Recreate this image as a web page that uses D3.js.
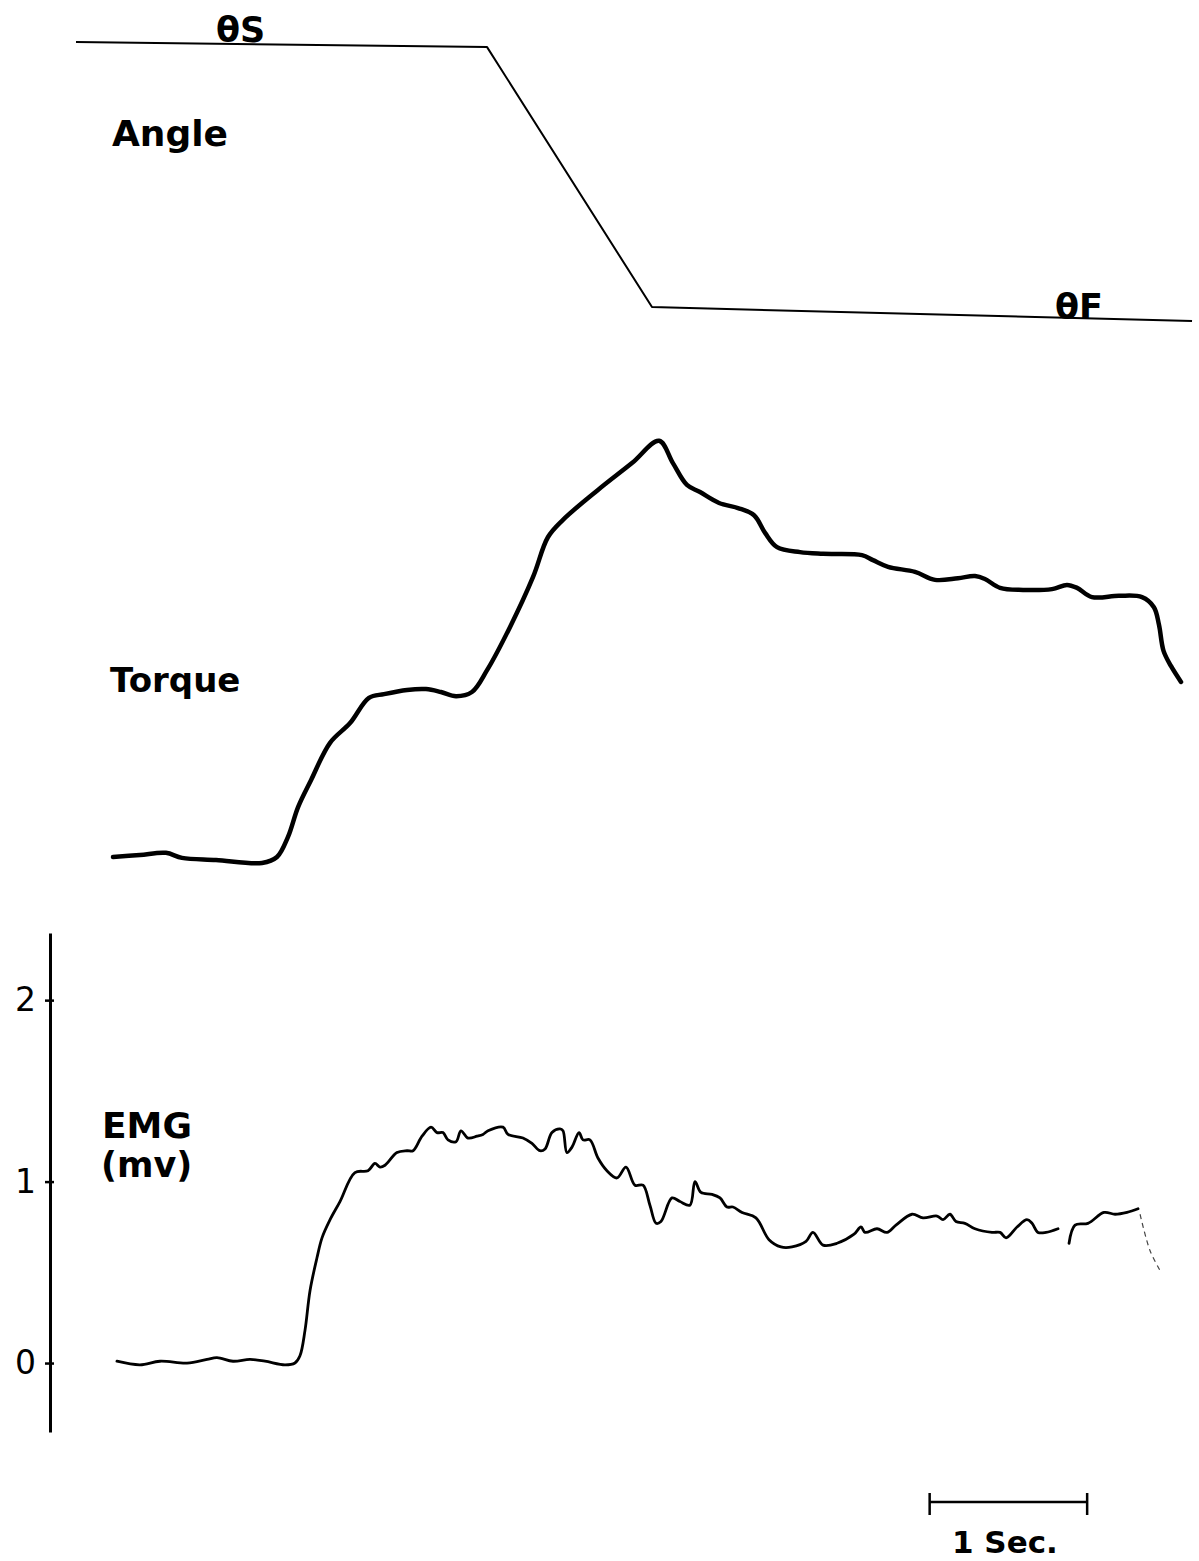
<!DOCTYPE html>
<html>
<head>
<meta charset="utf-8">
<script src="https://cdn.jsdelivr.net/npm/d3@7"></script>
<style>
  html, body { margin: 0; padding: 0; background: #fff; }
  svg text { font-family: "DejaVu Sans", sans-serif; font-weight: bold; fill: #000; }
</style>
</head>
<body>
<svg id="chart" width="1199" height="1561"></svg>
<script>
// ---------- DATA (time in seconds) ----------
const angleTime = [0, 2.61, 3.657, 7.086];
const angleDeg  = [60, 58.9, 3.0, 0];

const torqueTime = [0.235,0.406,0.571,0.673,0.889,1.181,1.276,1.346,1.410,1.492,1.613,1.740,1.860,1.956,2.102,2.222,2.317,2.413,2.514,2.610,2.756,2.902,2.997,3.092,3.314,3.530,3.702,3.790,3.879,3.962,4.083,4.203,4.305,4.375,4.451,4.597,4.743,4.990,5.060,5.156,5.327,5.454,5.600,5.708,5.771,5.867,6.013,6.197,6.292,6.356,6.451,6.622,6.768,6.844,6.876,6.905,6.952,7.016];
const torqueVal  = [0.07,0.12,0.17,0.05,0.00,-0.07,0.07,0.55,1.26,1.90,2.79,3.26,3.86,3.95,4.05,4.07,4.00,3.90,4.00,4.52,5.55,6.74,7.69,8.10,8.81,9.45,9.98,9.45,8.93,8.76,8.50,8.38,8.21,7.79,7.45,7.33,7.29,7.26,7.14,6.98,6.86,6.67,6.71,6.76,6.69,6.48,6.43,6.45,6.55,6.48,6.26,6.29,6.26,6.02,5.60,4.98,4.62,4.24];

const emgTime = [0.260,0.406,0.533,0.705,0.832,0.895,0.997,1.105,1.200,1.327,1.390,1.422,1.454,1.486,1.530,1.562,1.613,1.676,1.771,1.854,1.898,1.930,1.962,2.038,2.102,2.140,2.197,2.254,2.292,2.330,2.362,2.413,2.444,2.489,2.546,2.584,2.616,2.711,2.743,2.838,2.895,2.946,2.978,3.022,3.073,3.092,3.117,3.149,3.194,3.219,3.263,3.314,3.371,3.435,3.492,3.549,3.600,3.644,3.683,3.714,3.784,3.835,3.898,3.930,3.968,4.038,4.089,4.133,4.171,4.229,4.317,4.400,4.476,4.546,4.635,4.679,4.743,4.832,4.940,4.984,5.010,5.086,5.149,5.206,5.308,5.378,5.467,5.505,5.549,5.587,5.644,5.708,5.816,5.867,5.905,5.975,6.038,6.070,6.108,6.159,6.235,6.27,6.305,6.343,6.425,6.527,6.597,6.673,6.743];
const emgMv   = [0.01,-0.01,0.01,0.00,0.02,0.03,0.01,0.02,0.01,-0.01,0.00,0.04,0.18,0.40,0.58,0.69,0.79,0.89,1.05,1.06,1.10,1.08,1.09,1.16,1.17,1.17,1.25,1.30,1.27,1.27,1.23,1.22,1.28,1.24,1.25,1.26,1.28,1.30,1.26,1.24,1.21,1.17,1.18,1.27,1.29,1.28,1.16,1.19,1.27,1.23,1.23,1.13,1.06,1.02,1.08,0.98,0.98,0.87,0.77,0.78,0.91,0.89,0.87,1.00,0.94,0.93,0.91,0.86,0.86,0.83,0.80,0.68,0.64,0.64,0.67,0.72,0.65,0.66,0.71,0.75,0.72,0.74,0.72,0.76,0.82,0.80,0.81,0.79,0.82,0.78,0.77,0.74,0.72,0.72,0.69,0.75,0.79,0.77,0.72,0.72,0.74,null,0.66,0.76,0.77,0.83,0.82,0.83,0.85];
// faint pen tail after the record ends
const emgTailTime = [6.756, 6.819, 6.883];
const emgTailMv   = [0.82, 0.62, 0.51];

const emgTicks = [0, 1, 2];
const scaleBarStart = 5.42;   // seconds
const scaleBarLength = 1;     // seconds

// ---------- SCALES ----------
const svg = d3.select("#chart");
const x = d3.scaleLinear().domain([0, 7.1]).range([76, 76 + 7.1 * 157.5]);
const angleY  = d3.scaleLinear().domain([0, 60]).range([321, 42]);
const torqueY = d3.scaleLinear().domain([0, 10]).range([860, 440]);
const emgY    = d3.scaleLinear().domain([-0.38, 2.37]).range([1432, 933]);

const zipT = (t, v) => t.map((d, i) => ({ t: d, v: v[i] }));

// ---------- ANGLE ----------
svg.append("path")
  .datum(zipT(angleTime, angleDeg))
  .attr("fill", "none").attr("stroke", "#000").attr("stroke-width", 2)
  .attr("stroke-linejoin", "round")
  .attr("d", d3.line().x(d => x(d.t)).y(d => angleY(d.v)));

// ---------- TORQUE ----------
svg.append("path")
  .datum(zipT(torqueTime, torqueVal))
  .attr("fill", "none").attr("stroke", "#000").attr("stroke-width", 4.5)
  .attr("stroke-linejoin", "round").attr("stroke-linecap", "round")
  .attr("d", d3.line().curve(d3.curveCatmullRom.alpha(0.5)).x(d => x(d.t)).y(d => torqueY(d.v)));

// ---------- EMG ----------
const emgAxis = svg.append("g")
  .attr("transform", "translate(50,0)")
  .call(d3.axisLeft(emgY).tickValues(emgTicks).tickSizeInner(5).tickSizeOuter(0).tickPadding(9).tickFormat(d3.format("d")));
emgAxis.select(".domain").attr("stroke", "#000").attr("stroke-width", 3);
emgAxis.selectAll(".tick line").attr("x1", -5).attr("x2", 4).attr("stroke-width", 2.5);
emgAxis.selectAll(".tick text").style("font-size", "33px").style("font-weight", "normal")
  .style("font-family", "\"DejaVu Sans\", sans-serif");

svg.append("path")
  .datum(zipT(emgTime, emgMv))
  .attr("fill", "none").attr("stroke", "#000").attr("stroke-width", 2.8)
  .attr("stroke-linejoin", "round").attr("stroke-linecap", "round")
  .attr("d", d3.line().defined(d => d.v !== null).curve(d3.curveCatmullRom.alpha(0.5))
    .x(d => x(d.t)).y(d => emgY(d.v)));

svg.append("path")
  .datum(zipT(emgTailTime, emgTailMv))
  .attr("fill", "none").attr("stroke", "#444").attr("stroke-width", 1.2)
  .attr("stroke-dasharray", "5,4")
  .attr("d", d3.line().curve(d3.curveCatmullRom.alpha(0.5)).x(d => x(d.t)).y(d => emgY(d.v)));

// ---------- LABELS ----------
const label = (txt, px, py, size) =>
  svg.append("text").attr("x", px).attr("y", py).style("font-size", size + "px").text(txt);

label("θS", 216, 42, 35);
label("θF", 1055, 319, 35);
label("Angle", 112, 146, 36);
label("Torque", 110, 692, 34);
label("EMG", 102, 1138, 36);
label("(mv)", 101, 1177, 35);

// ---------- TIME SCALE BAR ----------
const sb = svg.append("g").attr("stroke", "#000");
const sx0 = x(scaleBarStart), sx1 = x(scaleBarStart + scaleBarLength);
sb.append("line").attr("x1", sx0).attr("x2", sx1).attr("y1", 1502).attr("y2", 1502).attr("stroke-width", 2.5);
sb.append("line").attr("x1", sx0).attr("x2", sx0).attr("y1", 1493).attr("y2", 1515).attr("stroke-width", 2.5);
sb.append("line").attr("x1", sx1).attr("x2", sx1).attr("y1", 1493).attr("y2", 1515).attr("stroke-width", 2.5);
label("1 Sec.", 952, 1553, 31);
</script>
</body>
</html>
